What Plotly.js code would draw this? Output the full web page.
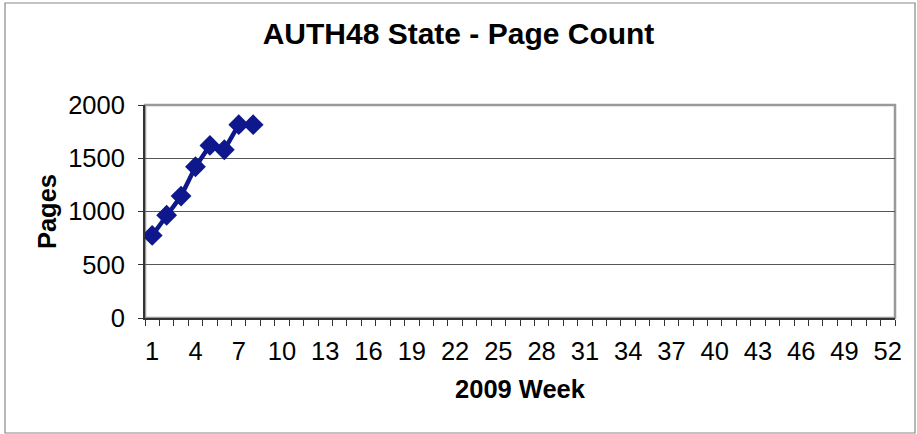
<!DOCTYPE html>
<html>
<head>
<meta charset="utf-8">
<script src="https://cdn.plot.ly/plotly-3.0.1.min.js"></script>
<style>
  html, body { margin: 0; padding: 0; background: #ffffff; }
  #chart { width: 917px; height: 434px; }
</style>
</head>
<body>
<div id="chart"></div>
<script>
// Data
var weeks = [1, 2, 3, 4, 5, 6, 7, 8];
var pages = [775, 965, 1145, 1420, 1620, 1580, 1815, 1815];
var xTickValues = [1, 4, 7, 10, 13, 16, 19, 22, 25, 28, 31, 34, 37, 40, 43, 46, 49, 52];
var xTickLabels = ['1', '4', '7', '10', '13', '16', '19', '22', '25', '28', '31', '34', '37', '40', '43', '46', '49', '52'];
var yTickValues = [0, 500, 1000, 1500, 2000];
var totalWeeks = 52;

var W = 917, H = 434;
var M = {l: 145, r: 22, t: 105, b: 116};
var pw = W - M.l - M.r, ph = H - M.t - M.b;
function px2x(px) { return (px - M.l) / pw; }
function py2y(py) { return 1 - (py - M.t) / ph; }

var boundaries = [];
for (var i = 0; i <= totalWeeks; i++) boundaries.push(i + 0.5);

var navy = '#0e188c';
var font = 'Liberation Sans, Arial, sans-serif';

var trace = {
  x: weeks,
  y: pages,
  type: 'scatter',
  mode: 'lines+markers',
  line: {color: navy, width: 4.5},
  marker: {symbol: 'diamond', size: 16, color: navy},
  hoverinfo: 'x+y'
};

var layout = {
  width: W,
  height: H,
  margin: M,
  paper_bgcolor: '#ffffff',
  plot_bgcolor: '#ffffff',
  showlegend: false,
  font: {family: font, color: '#000000'},
  title: {
    text: '<b>AUTH48 State - Page Count</b>',
    font: {family: font, size: 30, color: '#000000'},
    x: 0.5, xanchor: 'center',
    y: 1 - 33 / H, yanchor: 'middle', yref: 'container'
  },
  xaxis: {
    type: 'linear',
    range: [0.5, totalWeeks + 0.5],
    tickmode: 'array',
    tickvals: xTickValues,
    ticktext: xTickLabels,
    ticks: '',
    ticklabelstandoff: 9,
    tickfont: {family: font, size: 25.5, color: '#000000'},
    showgrid: false,
    zeroline: false,
    showline: true,
    linecolor: '#333333',
    linewidth: 2,
    minor: {
      tickmode: 'array',
      tickvals: boundaries,
      ticks: 'outside',
      ticklen: 6,
      tickwidth: 1,
      tickcolor: '#333333',
      showgrid: false
    },
    title: {
      text: '<b>2009 Week</b>',
      font: {family: font, size: 25.5, color: '#000000'},
      standoff: 17
    },
    fixedrange: true
  },
  yaxis: {
    range: [0, 2000],
    tickmode: 'array',
    tickvals: yTickValues,
    ticks: 'outside',
    ticklen: 5,
    tickwidth: 1,
    tickcolor: '#333333',
    ticklabelstandoff: 8,
    tickfont: {family: font, size: 25.5, color: '#000000'},
    showgrid: true,
    gridcolor: '#555555',
    gridwidth: 1,
    zeroline: false,
    showline: true,
    linecolor: '#333333',
    linewidth: 2,
    title: {
      text: '<b>Pages</b>',
      font: {family: font, size: 25.5, color: '#000000'},
      standoff: 4
    },
    fixedrange: true
  },
  shapes: [
    {
      type: 'rect', xref: 'paper', yref: 'paper', layer: 'below',
      x0: 0, x1: 1, y0: 0, y1: 1,
      line: {color: '#999999', width: 2.5}
    },
    {
      type: 'rect', xref: 'paper', yref: 'paper', layer: 'above',
      x0: px2x(5), x1: px2x(915), y0: py2y(433), y1: py2y(3),
      line: {color: '#888888', width: 1.2}
    }
  ]
};

Plotly.newPlot('chart', [trace], layout, {displayModeBar: false, staticPlot: true});
</script>
</body>
</html>
